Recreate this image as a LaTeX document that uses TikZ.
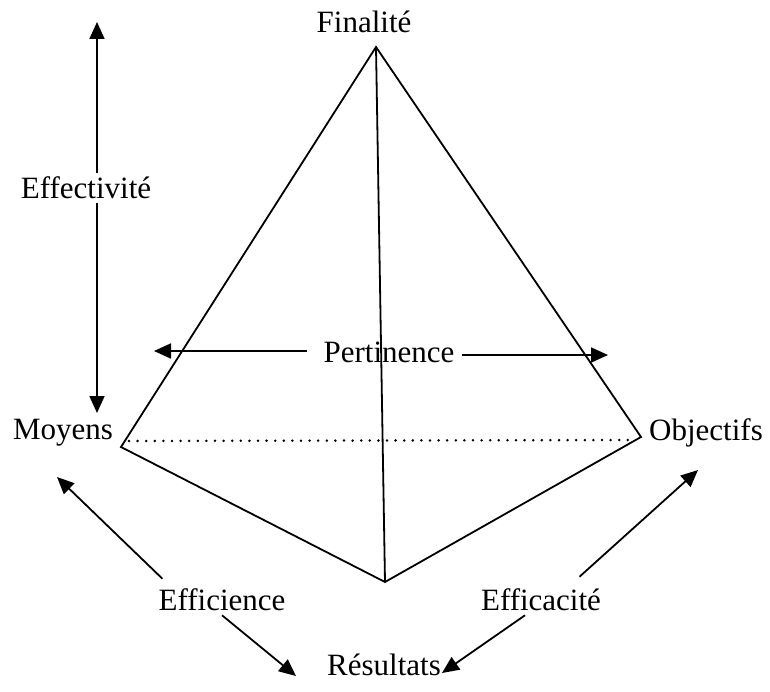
\documentclass[tikz,border=0pt]{standalone}
\usepackage{fontspec}
\setmainfont{Liberation Serif}
\usetikzlibrary{arrows.meta,calc}
\begin{document}
\begin{tikzpicture}[x=1pt,y=-1pt,
  lbl/.style={font=\fontsize{31}{37}\selectfont, inner sep=4pt},
  edge/.style={line width=1.8pt},
  arr/.style={line width=1.8pt, -{Triangle[length=17pt,width=15pt]}}]
\useasboundingbox (0,0) rectangle (770,692);
% pyramid vertices
\coordinate (A) at (376,47);
\coordinate (L) at (121,447);
\coordinate (R) at (641,437);
\coordinate (B) at (385,582);
\draw[edge, line join=miter] (L) -- (A) -- (R) -- (B) -- cycle;
\draw[edge] (A) -- (B);
\draw[line width=2.8pt, line cap=round, dash pattern=on 0pt off 8.6pt]
  ($(L)+(8,-6)$) -- ($(R)+(-6,3)$);
% labels
\node[lbl] (Fin) at (364,22) {Finalité};
\node[lbl] (Moy) at (63,433) {Moyens};
\node[lbl] (Obj) at (706,433) {Objectifs};
\node[lbl] (Eff) at (86,188) {Effectivité};
\node[lbl, inner xsep=0pt] (Pert) at (389,352) {Pertinence};
\node[lbl] (Effi) at (222,600) {Efficience};
\node[lbl] (Effa) at (541,600) {Efficacité};
\node[lbl] (Res) at (384,665) {Résultats};
% arrow tips
\coordinate (et) at (97,22);
\coordinate (eb) at (97,413);
\coordinate (pl) at (154,351);
\coordinate (pr) at (608,355);
\coordinate (mt) at (57,477);
\coordinate (ot) at (698,470);
\coordinate (rl) at (296,676);
\coordinate (rr) at (442,673);
% arrows
\draw[arr] ($(Eff.north)+(11,0)$) -- (et);
\draw[arr] ($(Eff.south)+(11,0)$) -- (eb);
\draw[arr] ($(Pert.west)+(-16,-1)$) -- (pl);
\draw[arr] ($(Pert.east)+(7,3)$) -- (pr);
\draw[arr] ($(Effi.north west)+(8,-6)$) -- (mt);
\draw[arr] ($(Effi.south)+(0,0)$) -- (rl);
\draw[arr] ($(Effa.north)!0.6!(Effa.north east)+(0,-8)$) -- (ot);
\draw[arr] ($(Effa.south)+(-16,0)$) -- (rr);
\end{tikzpicture}
\end{document}
